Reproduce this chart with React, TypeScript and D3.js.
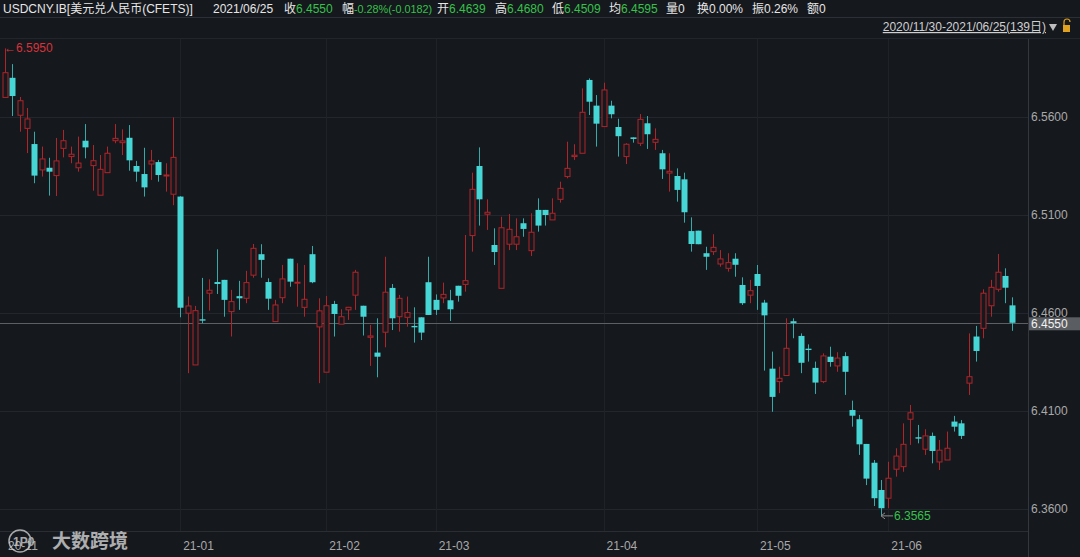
import React from "react";
import * as d3 from "d3";

const opens = [
  6.5700, 6.5800, 6.5609, 6.5542, 6.5462, 6.5330, 6.5341, 6.5301, 6.5440, 6.5398,
  6.5341, 6.5479, 6.5352, 6.5201, 6.5316, 6.5479, 6.5469, 6.5494, 6.5350, 6.5309,
  6.5360, 6.5370, 6.5299, 6.5206, 6.5194, 6.4599, 6.4335, 6.4568, 6.4701, 6.4758,
  6.4769, 6.4607, 6.4686, 6.4675, 6.4793, 6.4900, 6.4758, 6.4556, 6.4678, 6.4877,
  6.4752, 6.4629, 6.4900, 6.4529, 6.4298, 6.4646, 6.4543, 6.4616, 6.4691, 6.4637,
  6.4476, 6.4398, 6.4502, 6.4728, 6.4581, 6.4578, 6.4534, 6.4578, 6.4757, 6.4667,
  6.4677, 6.4665, 6.4739, 6.4746, 6.4995, 6.5350, 6.5104, 6.4947, 6.4726, 6.4951,
  6.4951, 6.5058, 6.4918, 6.5126, 6.5126, 6.5075, 6.5180, 6.5296, 6.5398, 6.5415,
  6.5789, 6.5658, 6.5551, 6.5658, 6.5549, 6.5398, 6.5496, 6.5466, 6.5568, 6.5471,
  6.5415, 6.5314, 6.5299, 6.5282, 6.5018, 6.5020, 6.4905, 6.4913, 6.4850, 6.4828,
  6.4877, 6.4743, 6.4691, 6.4799, 6.4653, 6.4316, 6.4250, 6.4281, 6.4558, 6.4483,
  6.4418, 6.4320, 6.4250, 6.4377, 6.4330, 6.4380, 6.4105, 6.4058, 6.3932, 6.3836,
  6.3697, 6.3655, 6.3803, 6.3816, 6.4058, 6.3966, 6.3905, 6.3973, 6.3840, 6.3850,
  6.4046, 6.4037, 6.4242, 6.4480, 6.4522, 6.4637, 6.4721, 6.4789, 6.4639,
];

const closes = [
  6.5826, 6.5707, 6.5683, 6.5590, 6.5301, 6.5386, 6.5321, 6.5376, 6.5479, 6.5410,
  6.5365, 6.5445, 6.5377, 6.5333, 6.5415, 6.5491, 6.5478, 6.5379, 6.5321, 6.5241,
  6.5376, 6.5304, 6.5304, 6.5394, 6.4627, 6.4636, 6.4612, 6.4561, 6.4716, 6.4748,
  6.4667, 6.4658, 6.4675, 6.4755, 6.4930, 6.4871, 6.4673, 6.4641, 6.4774, 6.4760,
  6.4757, 6.4670, 6.4757, 6.4611, 6.4637, 6.4595, 6.4581, 6.4629, 6.4808, 6.4581,
  6.4483, 6.4377, 6.4706, 6.4573, 6.4675, 6.4602, 6.4527, 6.4500, 6.4590, 6.4616,
  6.4695, 6.4619, 6.4688, 6.4765, 6.5231, 6.5180, 6.5114, 6.4911, 6.5035, 6.5027,
  6.4989, 6.5029, 6.5012, 6.5046, 6.5100, 6.5109, 6.5236, 6.5338, 6.5405, 6.5624,
  6.5678, 6.5566, 6.5738, 6.5614, 6.5502, 6.5461, 6.5488, 6.5588, 6.5512, 6.5486,
  6.5333, 6.5323, 6.5228, 6.5114, 6.4952, 6.4951, 6.4887, 6.4935, 6.4876, 6.4857,
  6.4846, 6.4650, 6.4714, 6.4738, 6.4588, 6.4172, 6.4267, 6.4420, 6.4548, 6.4346,
  6.4411, 6.4245, 6.4381, 6.4350, 6.4370, 6.4300, 6.4076, 6.3930, 6.3755, 6.3655,
  6.3604, 6.3757, 6.3870, 6.3930, 6.4091, 6.3959, 6.3973, 6.3896, 6.3900, 6.3910,
  6.4020, 6.3973, 6.4275, 6.4406, 6.4701, 6.4731, 6.4808, 6.4729, 6.4550,
];

const highs = [
  6.5950, 6.5870, 6.5702, 6.5646, 6.5525, 6.5449, 6.5392, 6.5493, 6.5534, 6.5449,
  6.5500, 6.5564, 6.5457, 6.5406, 6.5449, 6.5564, 6.5537, 6.5559, 6.5376, 6.5443,
  6.5432, 6.5381, 6.5364, 6.5598, 6.5196, 6.4684, 6.4636, 6.4779, 6.4772, 6.4925,
  6.4769, 6.4718, 6.4764, 6.4815, 6.4952, 6.4951, 6.4777, 6.4667, 6.4845, 6.4877,
  6.4854, 6.4845, 6.4942, 6.4675, 6.4687, 6.4662, 6.4619, 6.4631, 6.4820, 6.4637,
  6.4539, 6.4573, 6.4887, 6.4748, 6.4692, 6.4684, 6.4629, 6.4578, 6.4887, 6.4695,
  6.4755, 6.4718, 6.4739, 6.4998, 6.5316, 6.5445, 6.5180, 6.5032, 6.5091, 6.5105,
  6.5083, 6.5083, 6.5109, 6.5185, 6.5126, 6.5185, 6.5270, 6.5474, 6.5461, 6.5746,
  6.5797, 6.5712, 6.5775, 6.5683, 6.5591, 6.5466, 6.5496, 6.5615, 6.5605, 6.5542,
  6.5432, 6.5415, 6.5338, 6.5316, 6.5088, 6.5020, 6.4938, 6.5002, 6.4921, 6.4905,
  6.4905, 6.4782, 6.4769, 6.4845, 6.4667, 6.4403, 6.4326, 6.4573, 6.4573, 6.4496,
  6.4440, 6.4352, 6.4394, 6.4428, 6.4400, 6.4400, 6.4153, 6.4080, 6.3932, 6.3850,
  6.3748, 6.3841, 6.3910, 6.4037, 6.4131, 6.4029, 6.4007, 6.3990, 6.3952, 6.3995,
  6.4075, 6.4054, 6.4496, 6.4534, 6.4721, 6.4769, 6.4901, 6.4828, 6.4680,
];

const lows = [
  6.5697, 6.5605, 6.5525, 6.5416, 6.5262, 6.5296, 6.5199, 6.5197, 6.5394, 6.5364,
  6.5321, 6.5389, 6.5224, 6.5201, 6.5314, 6.5466, 6.5406, 6.5326, 6.5270, 6.5194,
  6.5279, 6.5270, 6.5219, 6.5150, 6.4578, 6.4293, 6.4335, 6.4548, 6.4612, 6.4697,
  6.4581, 6.4480, 6.4616, 6.4650, 6.4780, 6.4780, 6.4616, 6.4556, 6.4650, 6.4734,
  6.4632, 6.4581, 6.4752, 6.4242, 6.4298, 6.4480, 6.4543, 6.4565, 6.4616, 6.4485,
  6.4330, 6.4272, 6.4425, 6.4513, 6.4505, 6.4530, 6.4449, 6.4462, 6.4590, 6.4590,
  6.4650, 6.4559, 6.4658, 6.4709, 6.4913, 6.5046, 6.5024, 6.4845, 6.4726, 6.4921,
  6.4921, 6.4989, 6.4891, 6.5015, 6.5046, 6.5075, 6.5163, 6.5287, 6.5381, 6.5415,
  6.5610, 6.5449, 6.5551, 6.5593, 6.5398, 6.5360, 6.5469, 6.5452, 6.5437, 6.5432,
  6.5284, 6.5219, 6.5168, 6.5061, 6.4913, 6.4951, 6.4820, 6.4896, 6.4836, 6.4811,
  6.4785, 6.4641, 6.4650, 6.4616, 6.4306, 6.4096, 6.4191, 6.4281, 6.4471, 6.4293,
  6.4352, 6.4187, 6.4242, 6.4326, 6.4300, 6.4182, 6.4020, 6.3876, 6.3722, 6.3615,
  6.3565, 6.3604, 6.3765, 6.3790, 6.3927, 6.3935, 6.3876, 6.3833, 6.3799, 6.3850,
  6.3995, 6.3957, 6.4182, 6.4352, 6.4471, 6.4581, 6.4709, 6.4650, 6.4509,
];

const priceTicks = [6.56, 6.51, 6.46, 6.41, 6.36];
const monthLabels = ["20-11", "21-01", "21-02", "21-03", "21-04", "21-05", "21-06"];
const monthIndex = [0, 24, 44, 59, 82, 103, 121];

const lastPrice = 6.455;
const maxPrice = 6.595;
const minPrice = 6.3565;

const headerItems = [
  { t: "USDCNY.IB[美元兑人民币(CFETS)]" },
  { t: "2021/06/25" },
  { t: "收", v: "6.4550" },
  { t: "幅", v: "-0.28%(-0.0182)" },
  { t: "开", v: "6.4639" },
  { t: "高", v: "6.4680" },
  { t: "低", v: "6.4509" },
  { t: "均", v: "6.4595" },
  { t: "量0" },
  { t: "换0.00%" },
  { t: "振0.26%" },
  { t: "额0" },
];
const headerX = [3, 213, 284, 342, 437, 495, 552, 609, 666, 697, 752, 807];

const BG = "#15181d";
const UP = "#b0252a";
const DOWN = "#47d6d6";
const GREEN = "#35c24a";
const FONT = "'Liberation Sans', 'Noto Sans CJK SC', sans-serif";

export default function App() {
  const W = 1080;
  const H = 557;
  const n = opens.length;
  const x = d3.scaleLinear().domain([0, n - 1]).range([5, 1012.4]);
  const y = d3.scaleLinear().domain([6.36, 6.56]).range([509, 117]);
  const bw = 5;
  const fmt = d3.format(".4f");

  const maxIdx = d3.maxIndex(highs);
  const minIdx = d3.minIndex(lows);

  return (
    <svg
      width={W}
      height={H}
      style={{ position: "fixed", left: 0, top: 0, background: BG, fontFamily: FONT }}
    >
      <rect x={0} y={0} width={W} height={H} fill={BG} />
      {/* header */}
      <g fontSize={12}>
        {headerItems.map((h, i) => {
          const long = h.v && h.v.length > 10;
          return (
            <text key={i} x={headerX[i]} y={13} fill="#e6e6e6">
              {h.t}
              {h.v ? (
                <tspan fill={GREEN} fontSize={long ? 10.8 : 12}>
                  {h.v}
                </tspan>
              ) : null}
            </text>
          );
        })}
      </g>
      <line x1={0} x2={W} y1={17.5} y2={17.5} stroke="#2c2f35" />
      <text x={1046} y={31} fontSize={12} fill="#cfcfcf" textAnchor="end" textDecoration="underline">
        2020/11/30-2021/06/25(139日)
      </text>
      <path d="M1049,24 L1057,24 L1053,31 Z" fill="#bdbdbd" />
      <g>
        <path d="M1064,25 v-3 a3,3 0 0 1 6,0" fill="none" stroke="#e0a020" strokeWidth={1.2} />
        <rect x={1063} y={25} width={7} height={7} fill="#e0a020" />
      </g>
      <line x1={0} x2={W} y1={38.5} y2={38.5} stroke="#22252b" />

      {/* grid */}
      {priceTicks.map((p) => (
        <line key={p} x1={0} x2={1028} y1={Math.round(y(p)) + 0.5} y2={Math.round(y(p)) + 0.5} stroke="#23262c" />
      ))}
      {monthIndex.slice(1).map((m) => (
        <line key={m} x1={Math.round(x(m)) + 0.5} x2={Math.round(x(m)) + 0.5} y1={39} y2={531} stroke="#1f2227" />
      ))}

      {/* last price line */}
      <line x1={0} x2={1028} y1={Math.round(y(lastPrice)) + 0.5} y2={Math.round(y(lastPrice)) + 0.5} stroke="#5c5f63" />

      {/* candles */}
      {opens.map((o, i) => {
        const c = closes[i];
        const up = c >= o;
        const cx = Math.round(x(i)) + 0.5;
        const top = y(Math.max(o, c));
        const bot = y(Math.min(o, c));
        const hY = y(highs[i]);
        const lY = y(lows[i]);
        const bh = Math.max(1, bot - top);
        if (up) {
          return (
            <g key={i}>
              <line x1={cx} x2={cx} y1={hY} y2={top} stroke={UP} />
              <line x1={cx} x2={cx} y1={top + bh} y2={lY} stroke={UP} />
              <rect x={cx - bw / 2} y={top} width={bw} height={bh} fill={BG} stroke={UP} strokeWidth={1} />
            </g>
          );
        }
        return (
          <g key={i}>
            <line x1={cx} x2={cx} y1={hY} y2={lY} stroke="#36a9a9" />
            <rect x={cx - bw / 2 - 0.5} y={top} width={bw + 1} height={bh} fill={DOWN} />
          </g>
        );
      })}

      {/* max / min markers */}
      <g fontSize={12}>
        <text x={x(maxIdx) - 1} y={y(maxPrice) + 4} fill="#d8333a">
          ←{fmt(maxPrice)}
        </text>
        <line x1={x(minIdx)} x2={x(minIdx) + 12} y1={y(minPrice)} y2={y(minPrice)} stroke="#8a8a8a" />
        <path d={`M${x(minIdx)},${y(minPrice)} l4,-3 M${x(minIdx)},${y(minPrice)} l4,3`} stroke="#8a8a8a" fill="none" />
        <text x={x(minIdx) + 13} y={y(minPrice) + 4} fill={GREEN}>
          {fmt(minPrice)}
        </text>
      </g>

      {/* right axis */}
      <line x1={1028.5} x2={1028.5} y1={39} y2={557} stroke="#34373c" />
      <g fontSize={12} fill="#a9a9a9">
        {priceTicks.map((p) => (
          <text key={p} x={1031} y={y(p) + 4}>
            {fmt(p)}
          </text>
        ))}
      </g>
      <rect x={1029} y={y(lastPrice) - 5.5} width={51} height={13} fill="#5a5d61" />
      <text x={1031} y={y(lastPrice) + 5} fontSize={12} fill="#f2f2f2">
        {fmt(lastPrice)}
      </text>

      {/* bottom axis */}
      <line x1={0} x2={1028} y1={531.5} y2={531.5} stroke="#2a2d32" />
      <g fontSize={12} fill="#a9a9a9">
        {monthLabels.map((l, i) => (
          <text key={l} x={x(monthIndex[i]) + 3} y={550}>
            {l}
          </text>
        ))}
      </g>

      {/* watermark */}
      <g opacity={0.75}>
        <circle cx={20} cy={541} r={11} fill="none" stroke="#d8d8d8" strokeWidth={1.5} />
        <text x={13} y={546} fontSize={12} fill="#d8d8d8" fontWeight="bold">
          1P0
        </text>
        <text x={52} y={548} fontSize={19} fill="#e0e0e0" fontWeight="bold">
          大数跨境
        </text>
      </g>
    </svg>
  );
}
